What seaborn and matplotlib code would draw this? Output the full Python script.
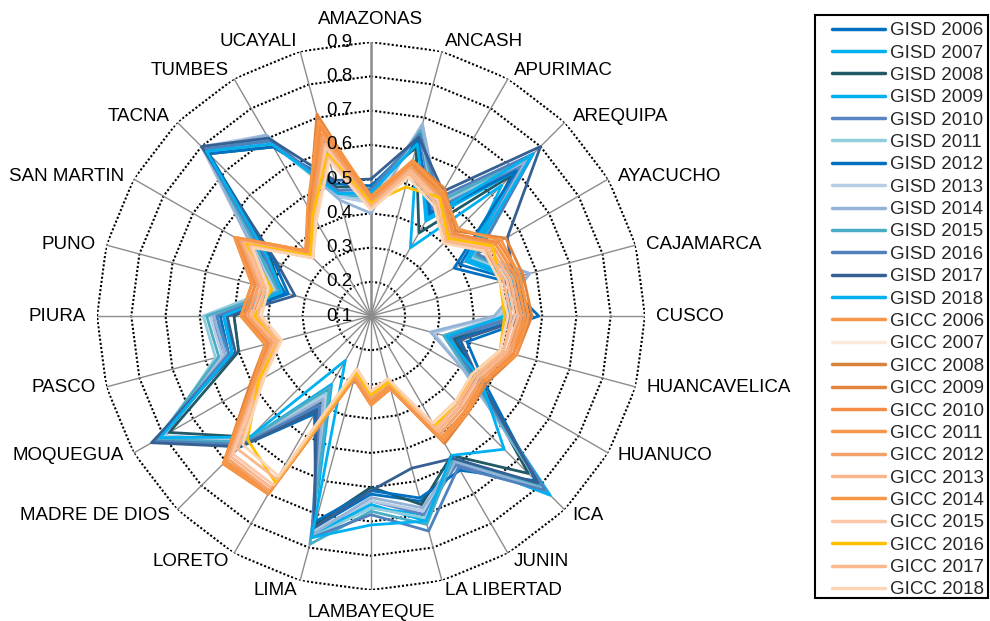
import numpy as np
import pandas as pd
import matplotlib
matplotlib.use("Agg")
import matplotlib.pyplot as plt
import seaborn as sns
from matplotlib.lines import Line2D
from matplotlib.patches import Rectangle

regions = ["AMAZONAS", "ANCASH", "APURIMAC", "AREQUIPA", "AYACUCHO", "CAJAMARCA",
           "CUSCO", "HUANCAVELICA", "HUANUCO", "ICA", "JUNIN", "LA LIBERTAD",
           "LAMBAYEQUE", "LIMA", "LORETO", "MADRE DE DIOS", "MOQUEGUA", "PASCO",
           "PIURA", "PUNO", "SAN MARTIN", "TACNA", "TUMBES", "UCAYALI"]
years = list(range(2006, 2019))
r_ticks = [0.1, 0.2, 0.3, 0.4, 0.5, 0.6, 0.7, 0.8, 0.9]

# GISD by year (one value per region, same order as regions)
gisd_2006 = [0.47, 0.63, 0.45, 0.72, 0.40, 0.52, 0.56, 0.36, 0.46, 0.80, 0.60, 0.66, 0.62, 0.74, 0.41, 0.62, 0.80, 0.53, 0.54, 0.36, 0.47, 0.78, 0.68, 0.48]
gisd_2007 = [0.46, 0.62, 0.33, 0.64, 0.42, 0.53, 0.50, 0.33, 0.44, 0.82, 0.58, 0.70, 0.66, 0.76, 0.35, 0.61, 0.81, 0.52, 0.52, 0.38, 0.45, 0.79, 0.69, 0.47]
gisd_2008 = [0.48, 0.61, 0.38, 0.68, 0.43, 0.54, 0.52, 0.35, 0.45, 0.75, 0.57, 0.67, 0.60, 0.73, 0.39, 0.60, 0.78, 0.50, 0.50, 0.37, 0.44, 0.77, 0.67, 0.49]
gisd_2009 = [0.45, 0.64, 0.42, 0.70, 0.42, 0.52, 0.49, 0.34, 0.43, 0.84, 0.58, 0.72, 0.65, 0.76, 0.33, 0.62, 0.82, 0.54, 0.55, 0.39, 0.48, 0.78, 0.70, 0.46]
gisd_2010 = [0.46, 0.65, 0.46, 0.72, 0.44, 0.55, 0.53, 0.33, 0.44, 0.81, 0.60, 0.70, 0.64, 0.75, 0.40, 0.63, 0.81, 0.55, 0.56, 0.38, 0.46, 0.79, 0.69, 0.47]
gisd_2011 = [0.44, 0.66, 0.47, 0.74, 0.44, 0.55, 0.48, 0.32, 0.42, 0.80, 0.59, 0.71, 0.66, 0.77, 0.36, 0.61, 0.80, 0.57, 0.59, 0.40, 0.49, 0.78, 0.68, 0.46]
gisd_2012 = [0.48, 0.63, 0.44, 0.70, 0.38, 0.50, 0.59, 0.39, 0.48, 0.78, 0.62, 0.65, 0.61, 0.72, 0.43, 0.64, 0.83, 0.52, 0.53, 0.35, 0.43, 0.77, 0.67, 0.50]
gisd_2013 = [0.43, 0.68, 0.48, 0.75, 0.45, 0.58, 0.47, 0.29, 0.41, 0.81, 0.58, 0.69, 0.64, 0.75, 0.37, 0.62, 0.80, 0.55, 0.57, 0.39, 0.50, 0.80, 0.71, 0.46]
gisd_2014 = [0.40, 0.68, 0.49, 0.74, 0.46, 0.58, 0.46, 0.28, 0.41, 0.82, 0.59, 0.68, 0.63, 0.76, 0.38, 0.63, 0.81, 0.54, 0.56, 0.40, 0.50, 0.79, 0.71, 0.45]
gisd_2015 = [0.45, 0.66, 0.48, 0.76, 0.45, 0.56, 0.50, 0.32, 0.43, 0.80, 0.58, 0.73, 0.67, 0.79, 0.34, 0.62, 0.82, 0.56, 0.58, 0.38, 0.48, 0.78, 0.70, 0.47]
gisd_2016 = [0.47, 0.65, 0.50, 0.77, 0.46, 0.55, 0.54, 0.34, 0.44, 0.82, 0.61, 0.75, 0.68, 0.77, 0.40, 0.63, 0.83, 0.53, 0.55, 0.37, 0.46, 0.79, 0.69, 0.48]
gisd_2017 = [0.50, 0.64, 0.52, 0.80, 0.56, 0.53, 0.57, 0.37, 0.46, 0.79, 0.58, 0.56, 0.61, 0.74, 0.42, 0.64, 0.84, 0.51, 0.52, 0.33, 0.42, 0.80, 0.70, 0.51]
gisd_2018 = [0.46, 0.62, 0.43, 0.77, 0.43, 0.54, 0.49, 0.33, 0.47, 0.65, 0.57, 0.72, 0.71, 0.77, 0.25, 0.60, 0.81, 0.52, 0.53, 0.37, 0.45, 0.78, 0.68, 0.47]

# GICC by year
gicc_2006 = [0.44, 0.56, 0.51, 0.44, 0.52, 0.54, 0.55, 0.53, 0.48, 0.49, 0.52, 0.31, 0.35, 0.28, 0.70, 0.71, 0.50, 0.41, 0.47, 0.45, 0.55, 0.36, 0.45, 0.68]
gicc_2007 = [0.43, 0.54, 0.50, 0.43, 0.50, 0.52, 0.53, 0.52, 0.46, 0.48, 0.50, 0.30, 0.34, 0.27, 0.68, 0.69, 0.49, 0.40, 0.46, 0.44, 0.54, 0.35, 0.44, 0.66]
gicc_2008 = [0.42, 0.55, 0.52, 0.41, 0.48, 0.51, 0.54, 0.51, 0.45, 0.47, 0.49, 0.29, 0.33, 0.27, 0.69, 0.70, 0.47, 0.39, 0.44, 0.43, 0.53, 0.34, 0.43, 0.63]
gicc_2009 = [0.44, 0.57, 0.53, 0.45, 0.555, 0.56, 0.57, 0.54, 0.49, 0.50, 0.53, 0.32, 0.36, 0.29, 0.70, 0.71, 0.51, 0.42, 0.48, 0.46, 0.56, 0.37, 0.46, 0.71]
gicc_2010 = [0.45, 0.56, 0.52, 0.44, 0.53, 0.55, 0.56, 0.53, 0.48, 0.50, 0.52, 0.31, 0.35, 0.28, 0.70, 0.70, 0.50, 0.41, 0.47, 0.45, 0.55, 0.36, 0.45, 0.67]
gicc_2011 = [0.44, 0.55, 0.51, 0.43, 0.52, 0.54, 0.55, 0.52, 0.47, 0.49, 0.51, 0.31, 0.35, 0.28, 0.69, 0.70, 0.49, 0.40, 0.46, 0.44, 0.54, 0.36, 0.45, 0.65]
gicc_2012 = [0.43, 0.55, 0.50, 0.43, 0.51, 0.53, 0.54, 0.52, 0.47, 0.48, 0.50, 0.30, 0.34, 0.28, 0.69, 0.69, 0.49, 0.40, 0.46, 0.44, 0.54, 0.35, 0.44, 0.64]
gicc_2013 = [0.42, 0.54, 0.49, 0.42, 0.50, 0.52, 0.53, 0.51, 0.46, 0.47, 0.49, 0.30, 0.33, 0.27, 0.68, 0.68, 0.48, 0.39, 0.45, 0.43, 0.53, 0.35, 0.43, 0.62]
gicc_2014 = [0.45, 0.57, 0.52, 0.46, 0.54, 0.55, 0.56, 0.54, 0.48, 0.50, 0.52, 0.32, 0.36, 0.29, 0.70, 0.71, 0.50, 0.42, 0.48, 0.46, 0.56, 0.37, 0.47, 0.69]
gicc_2015 = [0.42, 0.53, 0.49, 0.42, 0.49, 0.51, 0.52, 0.50, 0.45, 0.46, 0.48, 0.30, 0.33, 0.27, 0.67, 0.67, 0.47, 0.38, 0.44, 0.42, 0.52, 0.34, 0.43, 0.61]
gicc_2016 = [0.43, 0.49, 0.50, 0.42, 0.51, 0.49, 0.49, 0.49, 0.44, 0.46, 0.47, 0.30, 0.33, 0.27, 0.66, 0.61, 0.48, 0.38, 0.44, 0.40, 0.52, 0.35, 0.44, 0.59]
gicc_2017 = [0.42, 0.53, 0.48, 0.41, 0.49, 0.50, 0.51, 0.50, 0.45, 0.46, 0.48, 0.29, 0.32, 0.26, 0.65, 0.65, 0.46, 0.38, 0.43, 0.42, 0.51, 0.34, 0.42, 0.58]
gicc_2018 = [0.41, 0.52, 0.47, 0.40, 0.48, 0.49, 0.50, 0.49, 0.44, 0.45, 0.46, 0.29, 0.32, 0.26, 0.64, 0.63, 0.46, 0.37, 0.42, 0.41, 0.50, 0.34, 0.42, 0.57]

gisd_values = [gisd_2006, gisd_2007, gisd_2008, gisd_2009, gisd_2010, gisd_2011, gisd_2012,
               gisd_2013, gisd_2014, gisd_2015, gisd_2016, gisd_2017, gisd_2018]
gicc_values = [gicc_2006, gicc_2007, gicc_2008, gicc_2009, gicc_2010, gicc_2011, gicc_2012,
               gicc_2013, gicc_2014, gicc_2015, gicc_2016, gicc_2017, gicc_2018]

gisd_colors = ["#0070C0", "#00B0F0", "#215967", "#00B0F0", "#5B84C4", "#92CDDC", "#0070C0",
               "#B8CCE4", "#95B3D7", "#4BACC6", "#4F81BD", "#366092", "#00B0F0"]
gicc_colors = ["#F79646", "#FDE9D9", "#D9823B", "#E3843C", "#F38D45", "#F79646", "#F5A26A",
               "#FAB58A", "#F79646", "#FBC7A8", "#FFC000", "#FAB88C", "#FCD5B4"]

names = [f"GISD {y}" for y in years] + [f"GICC {y}" for y in years]
all_values = gisd_values + gicc_values
colors = gisd_colors + gicc_colors

n = len(regions)
theta = np.arange(n) * 2 * np.pi / n
theta_closed = np.append(theta, 2 * np.pi)

rows = []
for name, vals in zip(names, all_values):
    for t, v in zip(theta_closed, vals + vals[:1]):
        rows.append({"theta": t, "value": v, "series": name})
df = pd.DataFrame(rows)

sns.set_theme(style="white")
plt.rcParams['font.family'] = ['Liberation Sans', 'DejaVu Sans']

fig = plt.figure(figsize=(9.9, 6.21), dpi=100)
ax = fig.add_axes([0.098, 0.0499, 0.5535, 0.8824], projection='polar')
ax.set_theta_zero_location('N')
ax.set_theta_direction(-1)

# polygon gridlines and spokes, Excel style
for r in r_ticks[1:]:
    ax.plot(theta_closed, [r] * (n + 1), color='black', lw=1.5, ls=(0, (1, 1)), zorder=1)
for i, t in enumerate(theta):
    ax.plot([t, t], [r_ticks[0], r_ticks[-1]], color='#8c8c8c',
            lw=1.8 if i == 0 else 1.0, zorder=1)

sns.lineplot(data=df, x="theta", y="value", hue="series", hue_order=names,
             palette=dict(zip(names, colors)), sort=False, estimator=None,
             lw=2.0, ax=ax, legend=False, zorder=3)

ax.plot([0], [r_ticks[0]], 'o', color='#8c8c8c', ms=4, zorder=2)

ax.set_ylim(r_ticks[0], r_ticks[-1])
ax.grid(False)
ax.spines['polar'].set_visible(False)
ax.set_xticks([])
ax.set_yticks([])
ax.set_xlabel("")
ax.set_ylabel("")

# category labels
for name, t in zip(regions, theta):
    s, c = np.sin(t), np.cos(t)
    if abs(s) < 1e-6:
        ha = 'center'
        va = 'bottom' if c > 0 else 'top'
        dx, dy = 0, 14 * np.sign(c)
    else:
        ha = 'left' if s > 0 else 'right'
        va = 'center'
        dx, dy = 11 * s, 11 * c * abs(c)
    ax.annotate(name, xy=(t, r_ticks[-1]), xytext=(dx, dy), textcoords='offset pixels',
                ha=ha, va=va, fontsize=13.5, color='black', annotation_clip=False)

# value axis labels
for r in r_ticks:
    ax.annotate(f"{r:.1f}", xy=(0, r), xytext=(-19, 0), textcoords='offset pixels',
                ha='right', va='center', fontsize=13.5, color='black', zorder=5,
                annotation_clip=False)

# legend with a separate square frame
W, H = 990, 621
fig.patches.append(Rectangle((815 / W, 1 - 598 / H), 173 / W, 583 / H, transform=fig.transFigure,
                             fill=False, edgecolor='black', lw=1.5, zorder=5))
handles = [Line2D([0], [0], color=c, lw=2.5) for c in colors]
fig.legend(handles, names, loc='upper left', bbox_to_anchor=(832 / W, 1 - 22 / H),
           frameon=False, borderaxespad=0, borderpad=0, fontsize=13.5,
           handlelength=2.8, handletextpad=0.28, labelspacing=0.28)

fig.savefig("out.png", dpi=100)
